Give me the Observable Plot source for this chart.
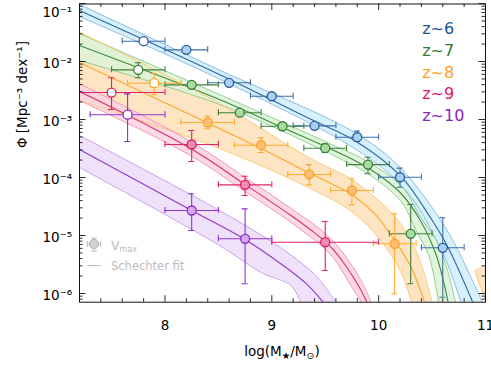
<!DOCTYPE html>
<html><head><meta charset="utf-8">
<script src="https://cdn.jsdelivr.net/npm/d3@7"></script>
<script src="https://cdn.jsdelivr.net/npm/@observablehq/plot@0.6"></script>
<style>body{margin:0;background:#fff;} svg{display:block}</style>
</head><body><div id="chart"></div>
<script>
// ---------- tick labels / legend labels ----------
const xTickValues = [8, 9, 10, 11];
const yTickValues = [1e-6, 1e-5, 1e-4, 1e-3, 1e-2, 1e-1];
const seriesLabels = ["z~6", "z~7", "z~8", "z~9", "z~10"];

// ---------- V_max points: z~6 ----------
const massZ6   = [7.8, 8.2, 8.6, 9.0, 9.4, 9.8, 10.2, 10.6];
const massLoZ6 = [7.6, 8.0, 8.4, 8.8, 9.2, 9.6, 10.0, 10.4];
const massHiZ6 = [8.0, 8.4, 8.8, 9.2, 9.6, 10.0, 10.4, 10.8];
const phiZ6    = [2.24e-2, 1.59e-2, 4.30e-3, 2.52e-3, 7.78e-4, 4.95e-4, 1.01e-4, 6.14e-6];
const phiLoZ6  = [2.13e-2, 1.51e-2, 4.00e-3, 2.35e-3, 6.80e-4, 4.20e-4, 6.80e-5, 8.60e-7];
const phiHiZ6  = [2.35e-2, 1.67e-2, 4.60e-3, 2.70e-3, 8.90e-4, 6.30e-4, 1.45e-4, 2.02e-5];
const openZ6   = [0];
// z~7
const massZ7   = [7.75, 8.25, 8.7, 9.1, 9.5, 9.9, 10.3];
const massLoZ7 = [7.5, 8.0, 8.5, 8.9, 9.3, 9.7, 10.1];
const massHiZ7 = [8.0, 8.5, 8.9, 9.3, 9.7, 10.1, 10.5];
const phiZ7    = [7.19e-3, 3.96e-3, 1.31e-3, 7.66e-4, 3.20e-4, 1.67e-4, 1.07e-5];
const phiLoZ7  = [5.24e-3, 3.60e-3, 1.17e-3, 6.50e-4, 2.70e-4, 1.16e-4, 1.47e-6];
const phiHiZ7  = [9.50e-3, 4.40e-3, 1.45e-3, 8.90e-4, 3.80e-4, 2.24e-4, 3.42e-5];
const openZ7   = [0];
// z~8
const massZ8   = [7.9, 8.4, 8.9, 9.35, 9.75, 10.15];
const massLoZ8 = [7.65, 8.15, 8.65, 9.15, 9.55, 9.95];
const massHiZ8 = [8.15, 8.65, 9.15, 9.55, 9.95, 10.35];
const phiZ8    = [4.23e-3, 8.87e-4, 3.61e-4, 1.13e-4, 5.97e-5, 7.19e-6];
const phiLoZ8  = [2.67e-3, 6.92e-4, 2.70e-4, 7.48e-5, 3.38e-5, 9.90e-7];
const phiHiZ8  = [6.14e-3, 1.14e-3, 4.83e-4, 1.67e-4, 9.51e-5, 2.37e-5];
const openZ8   = [0];
// z~9
const massZ9   = [7.5, 8.25, 8.75, 9.5];
const massLoZ9 = [7.0, 8.0, 8.5, 9.0];
const massHiZ9 = [8.0, 8.5, 9.0, 10.0];
const phiZ9    = [2.92e-3, 3.71e-4, 7.48e-5, 7.66e-6];
const phiLoZ9  = [1.49e-3, 1.89e-4, 4.90e-5, 2.49e-6];
const phiHiZ9  = [5.24e-3, 6.46e-4, 1.05e-4, 1.74e-5];
const openZ9   = [0];
// z~10
const massZ10   = [7.65, 8.25, 8.75];
const massLoZ10 = [7.3, 8.0, 8.5];
const massHiZ10 = [8.0, 8.5, 9.0];
const phiZ10    = [1.21e-3, 2.70e-5, 8.77e-6];
const phiLoZ10  = [4.18e-4, 1.22e-5, 1.47e-6];
const phiHiZ10  = [2.77e-3, 5.24e-5, 2.88e-5];
const openZ10   = [0];

// ---------- Schechter fits ----------
const fitMassZ6 = [7.2, 7.8, 8.48, 9.0, 9.4, 9.79, 10.21, 10.49, 10.65, 10.88];
const fitPhiZ6  = [7.57e-2, 2.39e-2, 6.33e-3, 2.17e-3, 9.42e-4, 4.18e-4, 1.04e-4, 1.96e-5, 6.21e-6, 7.08e-7];
const upMassZ6  = [7.2, 8.48, 9.79, 10.21, 10.57, 10.73, 10.97];
const upPhiZ6   = [9.62e-2, 7.57e-3, 5.74e-4, 1.43e-4, 1.96e-5, 6.21e-6, 7.08e-7];
const loMassZ6  = [7.2, 8.48, 9.79, 10.21, 10.40, 10.58, 10.77];
const loPhiZ6   = [5.97e-2, 5.30e-3, 3.04e-4, 7.28e-5, 1.96e-5, 6.21e-6, 7.08e-7];

const fitMassZ7 = [7.2, 8.51, 9.10, 9.50, 9.91, 10.21, 10.39, 10.54, 10.65];
const fitPhiZ7  = [1.89e-2, 2.21e-3, 7.27e-4, 3.42e-4, 1.43e-4, 5.30e-5, 1.82e-5, 4.52e-6, 7.08e-7];
const upMassZ7  = [7.2, 8.51, 9.50, 9.91, 10.21, 10.39, 10.60, 10.72];
const upPhiZ7   = [3.04e-2, 2.70e-3, 4.18e-4, 1.82e-4, 7.28e-5, 2.70e-5, 4.52e-6, 7.08e-7];
const loMassZ7  = [7.2, 8.51, 9.50, 9.91, 10.21, 10.35, 10.47, 10.56];
const loPhiZ7   = [1.04e-2, 1.82e-3, 2.81e-4, 1.13e-4, 3.85e-5, 1.22e-5, 4.52e-6, 7.08e-7];

const fitMassZ8 = [7.2, 8.51, 8.90, 9.36, 9.76, 9.97, 10.15, 10.30, 10.43];
const fitPhiZ8  = [9.6e-3, 7.0e-4, 3.16e-4, 1.17e-4, 4.90e-5, 2.30e-5, 8.20e-6, 2.92e-6, 7.08e-7];
const upMassZ8  = [7.2, 8.51, 9.36, 9.76, 10.15, 10.35, 10.50];
const upPhiZ8   = [3.20e-2, 1.89e-3, 2.13e-4, 8.87e-5, 2.13e-5, 5.51e-6, 7.08e-7];
const loMassZ8  = [7.2, 8.51, 9.36, 9.76, 10.02, 10.21, 10.31];
const loPhiZ8   = [2.13e-3, 3.16e-4, 6.46e-5, 2.49e-5, 8.20e-6, 2.30e-6, 7.08e-7];
const tailUpMassZ8 = [10.90, 10.95, 11.02];
const tailUpPhiZ8  = [2.49e-6, 2.81e-6, 3.04e-6];
const tailLoMassZ8 = [10.90, 10.95, 11.02];
const tailLoPhiZ8  = [2.49e-6, 1.32e-6, 6.46e-7];

const fitMassZ9 = [7.2, 8.24, 8.75, 9.18, 9.36, 9.55, 9.69, 9.81, 9.89];
const fitPhiZ9  = [3.04e-3, 3.16e-4, 7.57e-5, 2.21e-5, 1.27e-5, 6.46e-6, 3.04e-6, 1.37e-6, 7.08e-7];
const upMassZ9  = [7.2, 8.24, 8.75, 9.18, 9.55, 9.81, 9.93];
const upPhiZ9   = [4.18e-3, 4.18e-4, 1.0e-4, 2.92e-5, 8.87e-6, 2.04e-6, 7.08e-7];
const loMassZ9  = [7.2, 8.24, 8.75, 9.18, 9.55, 9.74, 9.84];
const loPhiZ9   = [2.13e-3, 2.39e-4, 5.74e-5, 1.68e-5, 4.70e-6, 1.37e-6, 7.08e-7];

const fitMassZ10 = [7.2, 8.25, 8.75, 9.08, 9.32, 9.48];
const fitPhiZ10  = [3.04e-4, 2.70e-5, 8.53e-6, 3.29e-6, 1.49e-6, 7.08e-7];
const upMassZ10  = [7.2, 8.51, 9.08, 9.41, 9.60];
const upPhiZ10   = [5.30e-4, 2.70e-5, 6.21e-6, 2.04e-6, 7.08e-7];
const loMassZ10  = [7.2, 8.51, 8.90, 9.18, 9.27];
const loPhiZ10   = [1.49e-4, 6.73e-6, 2.30e-6, 1.37e-6, 7.08e-7];

// ---------- helpers ----------
const pts = (m, lo_m, hi_m, p, lo, hi, open) => m.map((v, i) => ({mass: v, mlo: lo_m[i], mhi: hi_m[i], phi: p[i], lo: lo[i], hi: hi[i], open: open.includes(i)}));
const curve = (m, p) => m.map((v, i) => ({mass: v, phi: p[i]}));
const band = (mu, pu, ml, pl) => mu.map((v, i) => ({mu: v, pu: pu[i], ml: ml[i], pl: pl[i]}));

const S = [
  {p: pts(massZ6, massLoZ6, massHiZ6, phiZ6, phiLoZ6, phiHiZ6, openZ6), fit: curve(fitMassZ6, fitPhiZ6), up: curve(upMassZ6, upPhiZ6), lo: curve(loMassZ6, loPhiZ6), band: band(upMassZ6, upPhiZ6, loMassZ6, loPhiZ6),
   text: "#1f5191", line: "#2d64a5", edge: "#86b5dc", fill: "#cfeefb", ptEdge: "#2b5e9e", ptFill: "#a9d1f3", err: "#3d6ea8"},
  {p: pts(massZ7, massLoZ7, massHiZ7, phiZ7, phiLoZ7, phiHiZ7, openZ7), fit: curve(fitMassZ7, fitPhiZ7), up: curve(upMassZ7, upPhiZ7), lo: curve(loMassZ7, loPhiZ7), band: band(upMassZ7, upPhiZ7, loMassZ7, loPhiZ7),
   text: "#2d7a30", line: "#3a8a3a", edge: "#8cc98a", fill: "#dcf3d7", ptEdge: "#3a7d36", ptFill: "#a9dca1", err: "#3f7f3a"},
  {p: pts(massZ8, massLoZ8, massHiZ8, phiZ8, phiLoZ8, phiHiZ8, openZ8), fit: curve(fitMassZ8, fitPhiZ8), up: curve(upMassZ8, upPhiZ8), lo: curve(loMassZ8, loPhiZ8), band: band(upMassZ8, upPhiZ8, loMassZ8, loPhiZ8),
   text: "#ffa01c", line: "#ffa526", edge: "#ffc46e", fill: "#fde0b9", ptEdge: "#ffa21f", ptFill: "#fcbd74", err: "#ffaa2c"},
  {p: pts(massZ9, massLoZ9, massHiZ9, phiZ9, phiLoZ9, phiHiZ9, openZ9), fit: curve(fitMassZ9, fitPhiZ9), up: curve(upMassZ9, upPhiZ9), lo: curve(loMassZ9, loPhiZ9), band: band(upMassZ9, upPhiZ9, loMassZ9, loPhiZ9),
   text: "#e01468", line: "#dd2a6c", edge: "#f08cb0", fill: "#fbd2e1", ptEdge: "#dc1c65", ptFill: "#f48bb0", err: "#e0226c"},
  {p: pts(massZ10, massLoZ10, massHiZ10, phiZ10, phiLoZ10, phiHiZ10, openZ10), fit: curve(fitMassZ10, fitPhiZ10), up: curve(upMassZ10, upPhiZ10), lo: curve(loMassZ10, loPhiZ10), band: band(upMassZ10, upPhiZ10, loMassZ10, loPhiZ10),
   text: "#8b23c4", line: "#9139c8", edge: "#c59be6", fill: "#ecdcf9", ptEdge: "#8a2ec7", ptFill: "#d5a6f2", err: "#9033d0"}
];
const tail = band(tailUpMassZ8, tailUpPhiZ8, tailLoMassZ8, tailLoPhiZ8);

const X0 = 7.2, X1 = 11, Y0 = Math.pow(10, -6.15), Y1 = Math.pow(10, -1.008);

const marks = [];
// bands
for (const i of [2, 3, 4, 1, 0]) {
  marks.push(Plot.area(S[i].band, {x1: "mu", y1: "pu", x2: "ml", y2: "pl", fill: S[i].fill, fillOpacity: 0.85, curve: "catmull-rom", clip: true}));
  if (i === 2) marks.push(Plot.area(tail, {x1: "mu", y1: "pu", x2: "ml", y2: "pl", fill: S[2].fill, fillOpacity: 0.85, clip: true}));
}
// band edges and fit lines
for (const s of S) {
  marks.push(Plot.line(s.up, {x: "mass", y: "phi", stroke: s.edge, strokeWidth: 0.9, curve: "catmull-rom", clip: true}));
  marks.push(Plot.line(s.lo, {x: "mass", y: "phi", stroke: s.edge, strokeWidth: 0.9, curve: "catmull-rom", clip: true}));
  marks.push(Plot.line(s.fit, {x: "mass", y: "phi", stroke: s.line, strokeWidth: 1.1, curve: "catmull-rom", clip: true}));
}
marks.push(Plot.line(curve(tailLoMassZ8, tailLoPhiZ8), {x: "mass", y: "phi", stroke: S[2].edge, strokeWidth: 0.9, clip: true}));
// error bars + points
for (const s of S) {
  const c = {stroke: s.err, strokeWidth: 1.1, clip: true};
  marks.push(Plot.ruleY(s.p, {y: "phi", x1: "mlo", x2: "mhi", ...c}));
  marks.push(Plot.ruleX(s.p, {x: "mlo", y1: "phi", y2: "phi", insetTop: -3, insetBottom: -3, ...c}));
  marks.push(Plot.ruleX(s.p, {x: "mhi", y1: "phi", y2: "phi", insetTop: -3, insetBottom: -3, ...c}));
  marks.push(Plot.ruleX(s.p, {x: "mass", y1: "lo", y2: "hi", ...c}));
  marks.push(Plot.ruleY(s.p, {y: "lo", x1: "mass", x2: "mass", insetLeft: -3, insetRight: -3, ...c}));
  marks.push(Plot.ruleY(s.p, {y: "hi", x1: "mass", x2: "mass", insetLeft: -3, insetRight: -3, ...c}));
  marks.push(Plot.dot(s.p.filter(d => d.open), {x: "mass", y: "phi", r: 4.5, fill: "white", stroke: s.ptEdge, strokeWidth: 1.3}));
  marks.push(Plot.dot(s.p.filter(d => !d.open), {x: "mass", y: "phi", r: 4.5, fill: s.ptFill, stroke: s.ptEdge, strokeWidth: 1.3}));
}
// inward ticks
const xMinor = d3.range(36, 56).map(k => k / 5).filter(v => v > X0 + 1e-6 && v < X1 - 1e-6 && Math.abs(v - Math.round(v)) > 1e-6);
const yMinor = [];
for (let e = -7; e <= -1; e++) for (let k = 2; k <= 9; k++) { const v = k * Math.pow(10, e); if (v > Y0 && v < Y1) yMinor.push(v); }
const tk = {stroke: "#111", strokeWidth: 0.9};
for (const [vals, L] of [[xTickValues, 6.5], [xMinor, 3.5]]) {
  marks.push(Plot.ruleX(vals, {x: d => d, y1: () => Y0, y2: () => Y0, insetTop: -L, ...tk}));
  marks.push(Plot.ruleX(vals, {x: d => d, y1: () => Y1, y2: () => Y1, insetBottom: -L, ...tk}));
}
const yMajorIn = yTickValues.filter(v => v >= Y0 && v <= Y1 * 1.05);
for (const [vals, L] of [[yMajorIn, 6.5], [yMinor, 3.5]]) {
  marks.push(Plot.ruleY(vals, {y: d => d, x1: () => X0, x2: () => X0, insetRight: -L, ...tk}));
  marks.push(Plot.ruleY(vals, {y: d => d, x1: () => X1, x2: () => X1, insetLeft: -L, ...tk}));
}
const sup = n => String(n).replace("-", "\u207B").replace(/\d/g, c => "\u2070\u00B9\u00B2\u00B3\u2074\u2075\u2076\u2077\u2078\u2079"[+c]);
const fmtY = d => "10" + sup(Math.round(Math.log10(d)));
marks.push(Plot.axisX({ticks: xTickValues, tickSize: 0, tickPadding: 18.5, fontSize: 13.5, label: null, tickFormat: d => String(d)}));
marks.push(Plot.axisY({ticks: yTickValues.filter(v => v < 0.05), tickSize: 0, tickPadding: 7.3, dy: 2.5, fontSize: 13.5, label: null, tickFormat: fmtY}));
marks.push(Plot.text([0.1], {x: () => X0, y: d => d, text: fmtY, textAnchor: "end", dx: -7.3, dy: 9, fontSize: 13.5}));
marks.push(Plot.frame({stroke: "#111", strokeWidth: 1}));
// y label
marks.push(Plot.text(["\u03A6 [Mpc\u207B\u00B3 dex\u207B\u00B9]"], {frameAnchor: "left", rotate: -90, dx: -57.3, dy: -5, fontSize: 13.5}));
// redshift legend
seriesLabels.forEach((t, i) => {
  marks.push(Plot.text([t], {frameAnchor: "top-left", textAnchor: "start", lineAnchor: "middle", dx: 342.7, dy: 24.8 + i * 21.8, fontSize: 16, fill: S[i].text}));
});

const chart = Plot.plot({
  width: 491, height: 368,
  marginLeft: 79, marginRight: 6, marginTop: 3.5, marginBottom: 66.3,
  style: {fontFamily: "DejaVu Sans, sans-serif", fontSize: "13.5px", background: "white", overflow: "visible"},
  x: {domain: [X0, X1]},
  y: {type: "log", domain: [Y0, Y1]},
  marks
});
document.getElementById("chart").appendChild(chart);

// x-axis label with subscripts, and grey method legend
const svg = d3.select(chart);
const xl = svg.append("text").attr("x", 282).attr("y", 356).attr("text-anchor", "middle").attr("font-size", 13.5).attr("fill", "black");
xl.append("tspan").text("log(M");
xl.append("tspan").attr("font-size", 9.5).attr("dy", 3).text("\u2605");
xl.append("tspan").attr("dy", -3).text("/M");
xl.append("tspan").attr("font-size", 9.5).attr("dy", 3).text("\u2299");
xl.append("tspan").attr("dy", -3).text(")");

const grey = "#bcbcbc";
const lg = svg.append("g").attr("stroke", grey).attr("stroke-width", 1);
lg.append("line").attr("x1", 87.3).attr("x2", 100.7).attr("y1", 244).attr("y2", 244);
lg.append("line").attr("x1", 87.3).attr("x2", 87.3).attr("y1", 241).attr("y2", 247);
lg.append("line").attr("x1", 100.7).attr("x2", 100.7).attr("y1", 241).attr("y2", 247);
lg.append("line").attr("x1", 94).attr("x2", 94).attr("y1", 238).attr("y2", 251);
lg.append("line").attr("x1", 91).attr("x2", 97).attr("y1", 238).attr("y2", 238);
lg.append("line").attr("x1", 91).attr("x2", 97).attr("y1", 251).attr("y2", 251);
lg.append("circle").attr("cx", 94).attr("cy", 244).attr("r", 4.5).attr("fill", "#d2d2d2").attr("stroke", "#b3b3b3").attr("stroke-width", 1.2);
lg.append("line").attr("x1", 87.3).attr("x2", 100.7).attr("y1", 265.5).attr("y2", 265.5);
const vt = svg.append("text").attr("x", 111).attr("y", 249.5).attr("text-anchor", "start").attr("font-size", 12.5).attr("fill", grey);
vt.append("tspan").text("V");
vt.append("tspan").attr("font-size", 8).attr("dy", 2.5).text("max");
svg.append("text").attr("x", 111).attr("y", 270).attr("text-anchor", "start").attr("font-size", 11.5).attr("fill", grey).text("Schechter fit");
</script></body></html>
